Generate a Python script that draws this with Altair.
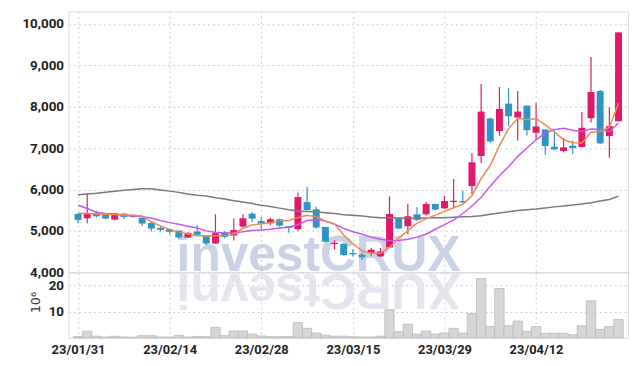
import altair as alt
import pandas as pd

dates = ["23/01/31", "23/02/01", "23/02/02", "23/02/03", "23/02/06", "23/02/07", "23/02/08", "23/02/09",
         "23/02/10", "23/02/13", "23/02/14", "23/02/15", "23/02/16", "23/02/17", "23/02/20", "23/02/21",
         "23/02/22", "23/02/23", "23/02/24", "23/02/27", "23/02/28", "23/03/02", "23/03/03", "23/03/06",
         "23/03/07", "23/03/08", "23/03/09", "23/03/10", "23/03/13", "23/03/14", "23/03/15", "23/03/16",
         "23/03/17", "23/03/20", "23/03/21", "23/03/22", "23/03/23", "23/03/24", "23/03/27", "23/03/28",
         "23/03/29", "23/03/30", "23/03/31", "23/04/03", "23/04/04", "23/04/05", "23/04/06", "23/04/07",
         "23/04/10", "23/04/11", "23/04/12", "23/04/13", "23/04/14", "23/04/17", "23/04/18", "23/04/19",
         "23/04/20", "23/04/21", "23/04/24", "23/04/25"]

opens = [5409, 5305, 5433, 5392, 5272, 5416, 5385, 5313, 5193, 5073,
         5041, 5008, 4840, 4985, 4873, 4696, 4965, 4888, 5104, 5416,
         5241, 5185, 5281, 5113, 5041, 5697, 5521, 5097, 4681, 4689,
         4465, 4425, 4473, 4384, 4601, 5305, 5113, 5401, 5401, 5649,
         5545, 5697, 5721, 6081, 6809, 7713, 7409, 8073, 7737, 8025,
         7369, 7449, 7033, 6929, 7057, 7025, 7721, 8377, 7289, 7649]
closes = [5265, 5425, 5353, 5296, 5425, 5337, 5337, 5176, 5056, 5025,
          4977, 4840, 4953, 4905, 4696, 4945, 4850, 5020, 5305, 5296,
          5176, 5281, 5128, 5073, 5817, 5505, 5080, 4737, 4713, 4417,
          4433, 4360, 4545, 4505, 5409, 5057, 5353, 5265, 5649, 5513,
          5721, 5728, 5689, 6657, 7881, 7161, 7945, 7769, 7881, 7433,
          7521, 7049, 6969, 7017, 7001, 7489, 8353, 7113, 7529, 9793]
highs = [5425, 5905, 5488, 5410, 5440, 5440, 5400, 5320, 5200, 5120,
         5060, 5010, 4970, 5137, 4890, 5401, 4990, 5300, 5400, 5450,
         5337, 5320, 5300, 5120, 5930, 6057, 5584, 5100, 4777, 4700,
         4560, 4470, 4585, 4585, 5833, 5310, 5657, 5577, 5697, 5660,
         5841, 6256, 5977, 6880, 8545, 7740, 8473, 8449, 8377, 8030,
         8090, 7450, 7417, 7241, 7177, 7873, 9201, 8400, 7985, 9793]
lows = [5185, 5185, 5330, 5280, 5250, 5290, 5320, 5121, 4985, 4985,
        4921, 4792, 4830, 4880, 4657, 4690, 4820, 4770, 5080, 5209,
        5017, 5140, 5100, 4953, 5001, 5490, 5060, 4730, 4552, 4400,
        4380, 4297, 4401, 4370, 4590, 5040, 4921, 5240, 5380, 5490,
        5530, 5561, 5660, 5881, 6640, 7130, 7297, 7529, 7185, 7305,
        7201, 6841, 6950, 6897, 6865, 7020, 7617, 7100, 6769, 7640]

ma_short = [5425, 5420, 5410, 5400, 5395, 5390, 5380, 5361, 5220, 5120,
            5030, 4970, 4925, 4885, 4880, 4880, 4880, 4920, 5060, 5140,
            5170, 5200, 5240, 5250, 5320, 5380, 5340, 5240, 5170, 4900,
            4690, 4520, 4460, 4460, 4600, 4830, 5000, 5190, 5290, 5380,
            5470, 5560, 5640, 5850, 6260, 6580, 7060, 7470, 7720, 7690,
            7710, 7560, 7390, 7200, 7130, 7120, 7380, 7400, 7500, 8080]
ma_mid = [5620, 5540, 5450, 5420, 5400, 5380, 5360, 5340, 5310, 5250,
          5200, 5160, 5110, 5070, 5000, 4960, 4950, 4950, 4980, 5010,
          5020, 5040, 5070, 5090, 5150, 5250, 5275, 5240, 5160, 5060,
          4980, 4920, 4850, 4800, 4765, 4770, 4800, 4850, 4920, 5040,
          5150, 5260, 5420, 5600, 5810, 6080, 6330, 6550, 6800, 7000,
          7200, 7360, 7440, 7480, 7430, 7400, 7460, 7450, 7400, 7600]
ma_long = [5870, 5890, 5910, 5935, 5960, 5980, 6000, 6020, 6015, 5990,
           5960, 5930, 5890, 5860, 5840, 5800, 5770, 5730, 5700, 5660,
           5620, 5590, 5550, 5510, 5480, 5470, 5460, 5440, 5420, 5390,
           5380, 5360, 5335, 5320, 5315, 5310, 5305, 5305, 5310, 5315,
           5320, 5330, 5340, 5350, 5365, 5400, 5430, 5460, 5490, 5510,
           5530, 5555, 5580, 5600, 5625, 5650, 5680, 5720, 5760, 5840]

volumes = [0.5, 2.5, 0.6, 0.3, 0.6, 0.3, 0.2, 0.8, 0.8, 0.3,
           0.3, 0.9, 0.3, 0.5, 0.4, 4.0, 0.8, 2.6, 2.6, 1.4,
           0.7, 0.4, 0.4, 0.5, 5.8, 3.6, 1.8, 1.0, 0.6, 0.6,
           0.4, 0.3, 0.3, 0.6, 10.7, 2.3, 5.2, 1.4, 2.6, 1.4,
           1.8, 3.6, 1.8, 9.3, 22.6, 4.3, 18.8, 4.6, 6.4, 2.5,
           4.3, 1.7, 1.7, 1.7, 1.2, 4.6, 14.1, 3.2, 4.3, 7.0]

price_ticks = [4000, 5000, 6000, 7000, 8000, 9000, 10000]
volume_ticks = [10, 20]
label_positions = [0, 10, 20, 30, 40, 50]
watermark = "investCRUX"
volume_unit = "10⁶"

UP = "#e2196b"
DOWN = "#2f95c6"
FONT = "Roboto"
GRID = "#c9cce0"

df = pd.DataFrame({
    "date": dates, "open": opens, "close": closes, "high": highs, "low": lows,
    "ma5": ma_short, "ma20": ma_mid, "ma60": ma_long, "vol": volumes,
})
df["idx"] = list(range(len(dates)))
df["dir"] = ["up" if c >= o else "down" for o, c in zip(opens, closes)]

label_expr = "[" + ",".join("'" + d + "'" for d in dates) + "][datum.value]"

xscale = alt.Scale(domain=[-0.5, len(dates) - 0.5], nice=False, zero=False)
pscale = alt.Scale(domain=[4000, 10300], nice=False, zero=False)
vscale = alt.Scale(domain=[0, 25], nice=False)
cscale = alt.Scale(domain=["up", "down"], range=[UP, DOWN])

x_top_axis = alt.Axis(values=label_positions, labels=False, ticks=False, domain=False, title=None,
                      grid=True, gridColor=GRID, gridDash=[2, 3], minExtent=0, maxExtent=0)
x_bot_axis = alt.Axis(values=label_positions, labelExpr=label_expr, ticks=False, domain=False, title=None,
                      grid=True, gridColor=GRID, gridDash=[2, 3], labelFont=FONT, labelFontSize=13,
                      labelFontWeight="bold", labelColor="#222", labelPadding=6, labelFlush=False)
p_axis = alt.Axis(values=price_ticks, format=",d", ticks=False, domain=False, title=None,
                  grid=True, gridColor=GRID, gridDash=[2, 3], labelFont=FONT, labelFontSize=13.5,
                  labelFontWeight="bold", labelColor="#222", labelPadding=5, minExtent=55, maxExtent=55)
v_axis = alt.Axis(values=volume_ticks, ticks=False, domain=False, title=volume_unit,
                  grid=True, gridColor=GRID, gridDash=[2, 3], labelFont=FONT, labelFontSize=13.5,
                  labelFontWeight="bold", labelColor="#222", labelPadding=5, minExtent=55, maxExtent=55,
                  titleFont="DejaVu Sans", titleFontWeight="normal", titleFontSize=13, titleColor="#333",
                  titleAngle=270, titleX=-33, titleY=30, titleAlign="center", titleBaseline="middle")

base = alt.Chart(df)
wm = pd.DataFrame({"t": [watermark], "r": [watermark[::-1]]})

mark_top = alt.Chart(wm).mark_text(font="Liberation Sans", fontSize=50, fontWeight="bold",
                                   color="#c3cae2", opacity=0.85, align="center", clip=True,
                                   baseline="alphabetic").encode(
    text="t:N", x=alt.value(252), y=alt.value(262))

wicks = base.mark_rule(strokeWidth=1.2).encode(
    x=alt.X("idx:Q", scale=xscale, axis=x_top_axis),
    y=alt.Y("low:Q", scale=pscale, axis=p_axis),
    y2="high:Q",
    color=alt.Color("dir:N", scale=cscale, legend=None))
bodies = base.mark_bar(size=7).encode(
    x=alt.X("idx:Q", scale=xscale),
    y=alt.Y("open:Q", scale=pscale),
    y2="close:Q",
    color=alt.Color("dir:N", scale=cscale, legend=None))
l60 = base.mark_line(color="#7a7a7a", strokeWidth=1.5).encode(
    x=alt.X("idx:Q", scale=xscale), y=alt.Y("ma60:Q", scale=pscale))
l20 = base.mark_line(color="#c957ea", strokeWidth=1.5).encode(
    x=alt.X("idx:Q", scale=xscale), y=alt.Y("ma20:Q", scale=pscale))
l5 = base.mark_line(color="#ef8a4e", strokeWidth=1.5).encode(
    x=alt.X("idx:Q", scale=xscale), y=alt.Y("ma5:Q", scale=pscale))

price = alt.layer(mark_top, wicks, bodies, l60, l20, l5).properties(width=564, height=263)

mark_ref = alt.Chart(wm).mark_text(font="Liberation Sans", fontSize=50, fontWeight="bold",
                                   color="#e2e3ec", opacity=0.9, align="center", angle=180, clip=True,
                                   baseline="alphabetic").encode(
    text="r:N", x=alt.value(252), y=alt.value(2))
vbars = base.mark_bar(size=9.4, color="#d6d6d6", stroke="#b9b9b9", strokeWidth=0.8).encode(
    x=alt.X("idx:Q", scale=xscale, axis=x_bot_axis),
    y=alt.Y("vol:Q", scale=vscale, axis=v_axis))
volume = alt.layer(mark_ref, vbars).properties(width=564, height=66)

chart = alt.vconcat(price, volume, spacing=0, bounds="flush").properties(
    padding={"left": 5, "top": 1, "right": 5, "bottom": 5}
).configure_view(stroke="#d5d5d5", strokeWidth=1).configure(background="white")

chart.save("out.html", embed_options={"renderer": "svg", "actions": False})
